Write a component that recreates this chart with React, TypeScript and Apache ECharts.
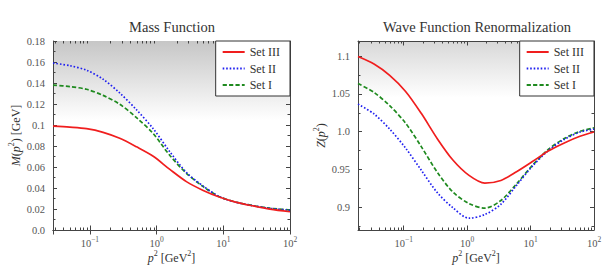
import React, { useEffect, useRef } from "react";
import * as echarts from "echarts";

// ---- data ----
const seriesNames = ["Set III", "Set II", "Set I"];

// Mass function M(p^2) [GeV]
const pLeft = [0.028, 0.05, 0.089, 0.158, 0.28, 0.5, 0.89, 1.58, 2.8, 5, 8.9, 15.8, 28, 50, 100];
const massSet3 = [0.099, 0.098, 0.0965, 0.093, 0.0873, 0.0792, 0.0702, 0.0577, 0.0461, 0.0377, 0.0312, 0.0263, 0.0229, 0.0199, 0.0174];
const massSet2 = [0.159, 0.1565, 0.1522, 0.1436, 0.1305, 0.1145, 0.0965, 0.0745, 0.0548, 0.0418, 0.0315, 0.0263, 0.0231, 0.0206, 0.0188];
const massSet1 = [0.138, 0.1366, 0.134, 0.1282, 0.1198, 0.107, 0.0918, 0.071, 0.054, 0.0413, 0.0315, 0.0264, 0.0232, 0.0208, 0.019];

// Wave function renormalization Z(p^2)
const pRight = [0.019, 0.034, 0.06, 0.107, 0.19, 0.34, 0.6, 1.07, 1.9, 3.4, 6, 10.7, 19, 34, 60, 100];
const zSet3 = [1.0995, 1.0895, 1.0745, 1.0533, 1.024, 0.9905, 0.9622, 0.9422, 0.932, 0.9355, 0.947, 0.9605, 0.9745, 0.9852, 0.994, 0.9997];
const zSet2 = [1.0365, 1.0235, 1.0035, 0.9783, 0.9488, 0.9192, 0.8992, 0.8856, 0.8905, 0.904, 0.929, 0.9545, 0.975, 0.9898, 0.9995, 1.0035];
const zSet1 = [1.0637, 1.052, 1.0345, 1.0113, 0.98, 0.946, 0.92, 0.905, 0.899, 0.909, 0.931, 0.9555, 0.9765, 0.991, 1.0005, 1.005];

const FONT = "'Liberation Serif', 'DejaVu Serif', serif";
const AXIS = "#444";
const LABEL = "#555";
const COLORS = ["#f01e1e", "#1f1ff0", "#1f8a1f"];
const LINE_TYPES: any[] = ["solid", [1.6, 1.9], [4.2, 2.2]];

function pairs(xs: number[], ys: number[]) {
  return xs.map((x, i) => [x, ys[i]]);
}

function logMinorTicks(min: number, max: number, yVal: number) {
  const out: number[][] = [];
  for (let e = -3; e <= 2; e++) {
    for (let k = 2; k <= 9; k++) {
      const v = k * Math.pow(10, e);
      if (v > min && v < max) out.push([v, yVal]);
    }
  }
  return out;
}

const numFmt = (v: number) => {
  let s = String(parseFloat(v.toFixed(3)));
  if (s.indexOf(".") < 0) s += ".0";
  return s;
};

const powFmt = (v: number) => {
  const e = Math.round(Math.log10(v));
  return "{b|10}{s|" + (e < 0 ? "\u2212" + -e : String(e)) + "}";
};

const richPow = {
  b: { fontFamily: FONT, fontSize: 10.5, color: LABEL, lineHeight: 14, verticalAlign: "bottom" },
  s: { fontFamily: FONT, fontSize: 7.5, color: LABEL, lineHeight: 14, verticalAlign: "top" },
};

const richName = {
  n: { fontFamily: FONT, fontSize: 12, color: "#333", lineHeight: 15, verticalAlign: "bottom" },
  i: { fontFamily: FONT, fontSize: 12, fontStyle: "italic", color: "#333", lineHeight: 15, verticalAlign: "bottom" },
  s: { fontFamily: FONT, fontSize: 8, color: "#333", lineHeight: 15, verticalAlign: "top" },
};

function xAxes(gridIndex: number, min: number) {
  const base = {
    type: "log",
    logBase: 10,
    gridIndex,
    min,
    max: 100,
    axisLine: { show: true, lineStyle: { color: AXIS, width: 1 } },
    axisTick: { show: true, inside: true, length: 4.5, lineStyle: { color: AXIS } },
    splitLine: { show: false },
  };
  return [
    {
      ...base,
      position: "bottom",
      name: "{i|p}{s|2} {n|[GeV}{s|2}{n|]}",
      nameLocation: "middle",
      nameGap: 19,
      nameMoveOverlap: false,
      nameTextStyle: { rich: richName },
      axisLabel: { show: true, margin: 5, showMinLabel: false, formatter: powFmt, rich: richPow },
    },
    {
      ...base,
      position: "top",
      axisLabel: { show: false },
    },
  ];
}

function yAxes(gridIndex: number, min: number, max: number, interval: number | undefined, name: string, showMin: boolean, nameGap: number) {
  const base: any = {
    type: "value",
    gridIndex,
    min,
    max,
    axisLine: { show: true, lineStyle: { color: AXIS, width: 1 } },
    axisTick: { show: true, inside: true, length: 4, lineStyle: { color: AXIS } },
    minorTick: { show: true, splitNumber: 2, length: 2.5, lineStyle: { color: AXIS } },
    splitLine: { show: false },
    minorSplitLine: { show: false },
  };
  if (interval !== undefined) base.interval = interval;
  return [
    {
      ...base,
      position: "left",
      name,
      nameLocation: "middle",
      nameGap,
      nameRotate: 90,
      nameMoveOverlap: false,
      nameTextStyle: { rich: richName },
      axisLabel: {
        show: true,
        margin: 8,
        fontFamily: FONT,
        fontSize: 10.5,
        color: LABEL,
        showMinLabel: showMin,
        showMaxLabel: showMin,
        formatter: numFmt,
      },
    },
    { ...base, position: "right", axisLabel: { show: false } },
  ];
}

function lineSeries(xIdx: number, yIdx: number, xs: number[], ys: number[][]) {
  return ys.map((vals, i) => ({
    name: seriesNames[i],
    type: "line",
    xAxisIndex: xIdx,
    yAxisIndex: yIdx,
    data: pairs(xs, vals),
    smooth: 0.3,
    symbol: "none",
    showSymbol: false,
    color: COLORS[i],
    lineStyle: { color: COLORS[i], width: 1.7, type: LINE_TYPES[i], cap: "butt" },
    z: 3 - i + 2,
  }));
}

function minorTickSeries(xIdx: number, yIdx: number, min: number, yVal: number) {
  return {
    type: "custom",
    xAxisIndex: xIdx,
    yAxisIndex: yIdx,
    silent: true,
    clip: false,
    data: logMinorTicks(min, 100, yVal),
    renderItem: (params: any, api: any) => {
      const pt = api.coord([api.value(0), api.value(1)]);
      const cs = params.coordSys;
      const x = Math.round(pt[0]) + 0.5;
      const b = cs.y + cs.height;
      const st = { stroke: AXIS, lineWidth: 1 };
      return {
        type: "group",
        children: [
          { type: "line", shape: { x1: x, y1: b, x2: x, y2: b - 2.5 }, style: st },
          { type: "line", shape: { x1: x, y1: cs.y, x2: x, y2: cs.y + 2.5 }, style: st },
        ],
      };
    },
  };
}

function legend(right: number) {
  return {
    data: seriesNames,
    orient: "vertical",
    right,
    top: 41,
    backgroundColor: "#fff",
    borderColor: "#333",
    borderWidth: 1,
    borderRadius: 0,
    padding: [5, 10, 5, 6],
    itemGap: 4.5,
    itemWidth: 22,
    itemHeight: 10,
    itemStyle: { opacity: 0 },
    textStyle: { fontFamily: FONT, fontSize: 12, color: "#333" },
    selectedMode: false,
  };
}

function gradient(top: string, stop: number) {
  return new echarts.graphic.LinearGradient(0, 0, 0, 1, [
    { offset: 0, color: top },
    { offset: stop, color: "#ffffff" },
    { offset: 1, color: "#ffffff" },
  ]);
}

export default function App() {
  const ref = useRef<HTMLDivElement>(null);
  useEffect(() => {
    if (!ref.current) return;
    const chart = echarts.init(ref.current, null, { renderer: "svg" });
    const option: any = {
      animation: false,
      backgroundColor: "#fff",
      textStyle: { fontFamily: FONT },
      title: [
        { text: "Mass Function", left: 172, top: 19, textAlign: "center", padding: 0, textStyle: { fontFamily: FONT, fontSize: 14.5, fontWeight: "normal", color: "#333" } },
        { text: "Wave Function Renormalization", left: 477, top: 19, textAlign: "center", padding: 0, textStyle: { fontFamily: FONT, fontSize: 14.5, fontWeight: "normal", color: "#333" } },
      ],
      legend: [legend(613 - 290), legend(613 - 594)],
      grid: [
        { left: 53, top: 41, width: 237, height: 189, show: true, borderWidth: 0, backgroundColor: gradient("#c6c6c6", 0.42) },
        { left: 358, top: 41, width: 236, height: 189, show: true, borderWidth: 0, backgroundColor: gradient("#d8d8d8", 0.3) },
      ],
      xAxis: [...xAxes(0, 0.028), ...xAxes(1, 0.019)],
      yAxis: [
        ...yAxes(0, 0, 0.18, 0.02, "{i|M}{n|(}{i|p}{s|2}{n|) [GeV]}", true, 31),
        ...yAxes(1, 0.87, 1.12, undefined, "{i|Z}{n|(}{i|p}{s|2}{n|)}", false, 31),
      ],
      series: [
        ...lineSeries(0, 0, pLeft, [massSet3, massSet2, massSet1]),
        ...lineSeries(2, 2, pRight, [zSet3, zSet2, zSet1]),
        minorTickSeries(0, 0, 0.028, 0.05),
        minorTickSeries(2, 2, 0.019, 1.0),
      ],
    };
    chart.setOption(option);
    return () => chart.dispose();
  }, []);
  return <div ref={ref} style={{ position: "fixed", left: 0, top: 0, width: 613, height: 274 }} />;
}
